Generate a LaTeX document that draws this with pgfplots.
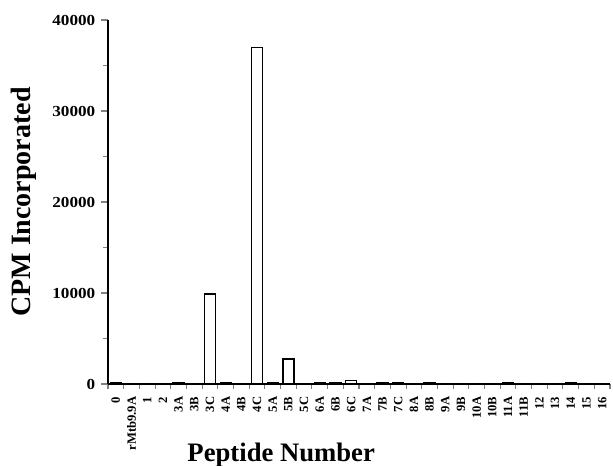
\documentclass[border=0pt]{standalone}
\usepackage{fontspec}
\setmainfont{Liberation Serif}
\newfontfamily\widefont[FakeStretch=1.12]{Liberation Serif}
\usepackage{pgfplots}
\pgfplotsset{compat=1.18}
\begin{document}
\begin{tikzpicture}
\useasboundingbox (-81pt,-61.5pt) rectangle (378.75pt,288pt);
\begin{axis}[
  scale only axis,
  width=376.5pt, height=273pt,
  at={(0,0)}, anchor=south west,
  ybar, bar width=8.25pt,
  xmin=-0.5, xmax=31.5,
  ymin=0, ymax=40000,
  axis x line=bottom, axis y line=left,
  axis line style={-, line width=0.9pt},
  xtick={0,...,31},
  xticklabels={0,rMtb9.9A,1,2,3A,3B,3C,4A,4B,4C,5A,5B,5C,6A,6B,6C,7A,7B,7C,8A,8B,9A,9B,10A,10B,11A,11B,12,13,14,15,16},
  major x tick style={draw=none},
  minor xtick={-0.5,0.5,...,31.5},
  minor x tick style={line width=0.8pt},
  ytick={0,10000,20000,30000,40000},
  minor ytick={5000,15000,25000,35000},
  tick align=outside,
  major tick length=5pt,
  minor tick length=3.5pt,
  y tick style={line width=0.8pt},
  scaled y ticks=false,
  /pgf/number format/.cd, 1000 sep={}, assume math mode=true,
  /pgfplots/.cd,
  yticklabel style={font=\fontsize{11.5}{13}\widefont\bfseries, xshift=-1pt},
  xticklabel style={font=\fontsize{9.5}{11}\selectfont\bfseries, rotate=90, anchor=east, xshift=-1pt},
  xlabel={Peptide Number},
  ylabel={CPM Incorporated},
  xlabel style={font=\fontsize{20}{24}\selectfont\bfseries, at={(axis description cs:0.345,-0.195)}, anchor=center},
  ylabel style={font=\fontsize{21}{25}\selectfont\bfseries, at={(axis description cs:-0.168,0.5)}, anchor=center},
  clip=false,
]
\addplot[draw=black, fill=white, line width=0.9pt] coordinates {
(0,150) (1,0) (2,0) (3,0) (4,200) (5,0) (6,9900) (7,200) (8,0) (9,37000)
(10,150) (11,2750) (12,0) (13,200) (14,200) (15,350) (16,0) (17,200) (18,200) (19,0)
(20,200) (21,0) (22,0) (23,0) (24,0) (25,200) (26,0) (27,0) (28,0) (29,200)
(30,0) (31,0)
};
\end{axis}
\end{tikzpicture}
\end{document}
